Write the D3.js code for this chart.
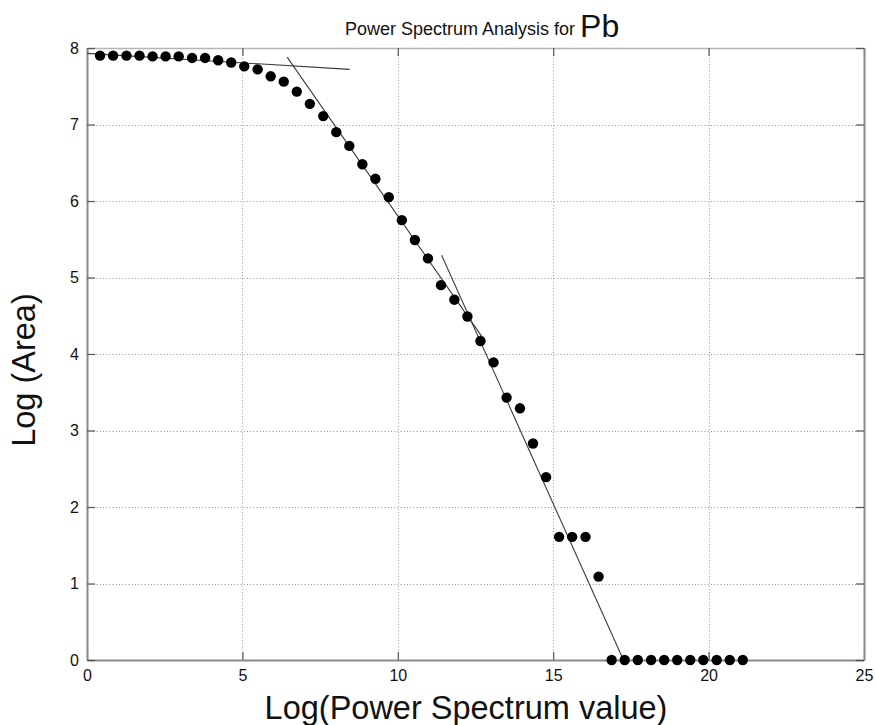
<!DOCTYPE html>
<html>
<head>
<meta charset="utf-8">
<script src="https://cdn.jsdelivr.net/npm/d3@7/dist/d3.min.js"></script>
<style>
  html, body { margin: 0; padding: 0; background: #fff; }
  svg { display: block; font-family: "Liberation Sans", Arial, sans-serif; }
</style>
</head>
<body>
<svg id="chart" width="876" height="725"></svg>
<script>
// ---- data ----
const xValues = [0.42,0.84,1.27,1.69,2.11,2.53,2.95,3.38,3.80,4.22,
                 4.64,5.06,5.49,5.91,6.33,6.75,7.17,7.60,8.02,8.44,
                 8.86,9.28,9.71,10.13,10.55,10.97,11.39,11.82,12.24,12.66,
                 13.08,13.50,13.93,14.35,14.77,15.19,15.61,16.04,16.46,16.88,
                 17.30,17.72,18.15,18.57,18.99,19.41,19.83,20.26,20.68,21.10];
const yValues = [7.90,7.90,7.90,7.90,7.89,7.89,7.89,7.87,7.87,7.84,
                 7.81,7.76,7.72,7.63,7.56,7.43,7.27,7.11,6.90,6.72,
                 6.48,6.29,6.05,5.75,5.49,5.25,4.90,4.71,4.49,4.17,
                 3.89,3.43,3.29,2.83,2.39,1.61,1.61,1.61,1.09,0,
                 0,0,0,0,0,0,0,0,0,0];
const fit1X = [0, 8.45],     fit1Y = [7.93, 7.72];
const fit2X = [6.44, 12.70], fit2Y = [7.88, 4.23];
const fit3X = [11.41, 17.26], fit3Y = [5.29, 0];
const xTicks = [0, 5, 10, 15, 20, 25];
const yTicks = [0, 1, 2, 3, 4, 5, 6, 7, 8];
const titleText = "Power Spectrum Analysis for";
const titleElement = "Pb";
const xLabel = "Log(Power Spectrum value)";
const yLabel = "Log (Area)";

// ---- layout ----
const L = 87, R = 864, T = 48, B = 660;
const svg = d3.select("#chart");
const x = d3.scaleLinear().domain([0, 25]).range([L, R]);
const y = d3.scaleLinear().domain([0, 8]).range([B, T]);

// grid
const grid = svg.append("g").attr("stroke", "#9a9a9a").attr("stroke-width", 1)
  .attr("stroke-dasharray", "1,2.2");
grid.selectAll("line.gx").data(xTicks.slice(1, -1)).join("line")
  .attr("x1", d => Math.round(x(d)) + 0.5).attr("x2", d => Math.round(x(d)) + 0.5)
  .attr("y1", T).attr("y2", B);
grid.selectAll("line.gy").data(yTicks.slice(1, -1)).join("line")
  .attr("x1", L).attr("x2", R)
  .attr("y1", d => Math.round(y(d)) + 0.5).attr("y2", d => Math.round(y(d)) + 0.5);

// axes (inward ticks on all four sides)
const tickLen = 8;
const fmt = d3.format("d");
const axB = svg.append("g").attr("transform", `translate(0,${B})`)
  .call(d3.axisBottom(x).tickValues(xTicks).tickFormat(fmt).tickSizeInner(-tickLen).tickSizeOuter(0).tickPadding(10));
const axT = svg.append("g").attr("transform", `translate(0,${T})`)
  .call(d3.axisTop(x).tickValues(xTicks).tickFormat("").tickSizeInner(-tickLen).tickSizeOuter(0));
const axL = svg.append("g").attr("transform", `translate(${L},0)`)
  .call(d3.axisLeft(y).tickValues(yTicks).tickFormat(fmt).tickSizeInner(-tickLen).tickSizeOuter(0).tickPadding(8));
const axR = svg.append("g").attr("transform", `translate(${R},0)`)
  .call(d3.axisRight(y).tickValues(yTicks).tickFormat("").tickSizeInner(-tickLen).tickSizeOuter(0));

[axB, axT, axL, axR].forEach(a => {
  a.select(".domain").attr("stroke", "#8a8a8a").attr("stroke-width", 2);
  a.selectAll(".tick line").attr("stroke", "#555").attr("stroke-width", 1.2);
  a.selectAll(".tick text").attr("fill", "#111").style("font-size", "16px")
    .style("font-family", "'Liberation Sans', Arial, sans-serif");
});
axT.select(".domain").attr("stroke", "#b5b5b5").attr("stroke-width", 1.5);
axB.selectAll(".tick text").attr("dy", "0.71em");

// fitted lines
const lineGen = d3.line().x(d => x(d[0])).y(d => y(d[1]));
[[fit1X, fit1Y], [fit2X, fit2Y], [fit3X, fit3Y]].forEach(([fx, fy]) => {
  svg.append("path")
    .attr("d", lineGen(fx.map((v, i) => [v, fy[i]])))
    .attr("fill", "none").attr("stroke", "#3a3a3a").attr("stroke-width", 1.1);
});

// points
svg.append("g").selectAll("circle").data(xValues.map((v, i) => [v, yValues[i]])).join("circle")
  .attr("cx", d => x(d[0])).attr("cy", d => y(d[1])).attr("r", 5.2).attr("fill", "#000");

// title
const t = svg.append("text").attr("x", 345).attr("y", 34.5).attr("fill", "#111");
t.append("tspan").text(titleText + " ").style("font-size", "18px");
t.append("tspan").text(titleElement).style("font-size", "32px").attr("dy", 2);

// axis labels
svg.append("text").attr("x", 466).attr("y", 719).attr("text-anchor", "middle")
  .style("font-size", "32.5px").attr("fill", "#111").text(xLabel);
svg.append("text").attr("transform", "translate(35,370) rotate(-90)")
  .attr("text-anchor", "middle").style("font-size", "32.5px").attr("fill", "#111").text(yLabel);
</script>
</body>
</html>
